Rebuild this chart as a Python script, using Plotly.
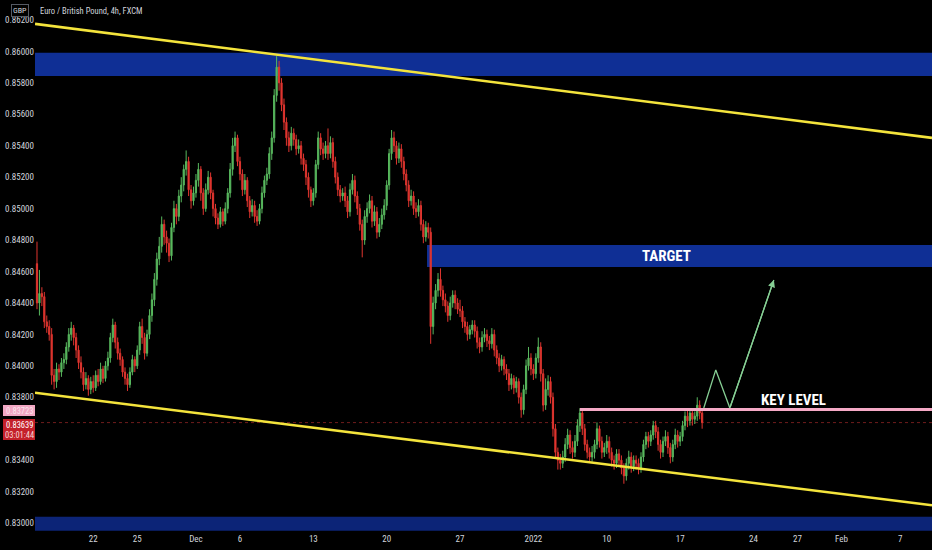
import pandas as pd
import plotly.graph_objects as go

# ---------------- data (prices in pips, 1 pip = 0.0001) ----------------
first_bar = "2021-11-16 04:00"
last_bar = "2022-01-18 12:00"
first_open = 8465

closes = [
    8440, 8446, 8444, 8428, 8425,
    8420, 8394, 8390, 8398, 8396, 8402,
    8404, 8412, 8420, 8424, 8418, 8410,
    8402, 8396, 8388, 8392, 8385, 8390,
    8386, 8394, 8390, 8398, 8392, 8400,
    8405, 8418, 8426, 8415, 8408, 8404,
    8396, 8392, 8388, 8396, 8404, 8400,
    8410, 8425, 8418, 8408, 8420, 8432,
    8442, 8455, 8468, 8476, 8490, 8482,
    8478, 8470, 8488, 8500, 8495, 8508,
    8515, 8525, 8530, 8512, 8505, 8510,
    8518, 8525, 8510, 8500, 8512, 8520,
    8510, 8500, 8494, 8490, 8498, 8492,
    8500, 8510, 8525, 8540, 8545, 8530,
    8522, 8512, 8518, 8505, 8498, 8502,
    8495, 8492, 8500, 8510, 8518, 8522,
    8535, 8545, 8572, 8590, 8580, 8566,
    8555, 8545, 8540, 8548, 8544, 8538,
    8540, 8532, 8528, 8520, 8512, 8505,
    8510, 8528, 8545, 8538, 8535, 8540,
    8535, 8542, 8530, 8520, 8512, 8508,
    8510, 8505, 8498, 8512, 8518, 8508,
    8500, 8490, 8480, 8495, 8500, 8505,
    8492, 8498, 8485, 8490, 8496, 8502,
    8515, 8535, 8545, 8540, 8532, 8538,
    8530, 8522, 8515, 8505, 8508, 8500,
    8498, 8502, 8490, 8482, 8488, 8485,
    8425, 8440, 8448, 8455, 8448, 8442,
    8438, 8432, 8440, 8445, 8440, 8436,
    8435, 8428, 8425, 8420, 8423, 8426,
    8422, 8415, 8412, 8418, 8420, 8416,
    8414, 8420, 8410, 8405, 8400, 8404,
    8398, 8395, 8388, 8392, 8386, 8390,
    8380, 8372, 8385, 8400, 8405, 8398,
    8395, 8405, 8412, 8395, 8375, 8385,
    8390, 8380, 8360, 8345, 8340, 8338,
    8342, 8350, 8356, 8348, 8345, 8352,
    8362, 8370, 8360, 8350, 8345, 8342,
    8345, 8350, 8360, 8352, 8345, 8348,
    8352, 8345, 8340, 8338, 8344, 8340,
    8335, 8330, 8338, 8342, 8336, 8340,
    8338, 8335, 8342, 8350, 8355, 8352,
    8356, 8362, 8358, 8350, 8345, 8352,
    8355, 8348, 8342, 8350, 8356, 8352,
    8355, 8362, 8368, 8365, 8370, 8366,
    8368, 8375, 8370, 8363.9,
]

highs = [
    8479, 8461, 8450, 8447, 8432,
    8429, 8424, 8398, 8402, 8401, 8405,
    8408, 8415, 8424, 8428, 8426, 8421,
    8413, 8406, 8399, 8396, 8394, 8393,
    8394, 8397, 8398, 8402, 8400, 8403,
    8409, 8421, 8430, 8428, 8418, 8411,
    8406, 8399, 8395, 8399, 8407, 8406,
    8413, 8428, 8430, 8421, 8423, 8436,
    8446, 8459, 8472, 8482, 8495, 8493,
    8486, 8481, 8491, 8505, 8503, 8512,
    8520, 8528, 8537, 8533, 8515, 8514,
    8522, 8529, 8527, 8513, 8516, 8524,
    8523, 8512, 8503, 8497, 8501, 8500,
    8504, 8513, 8529, 8545, 8549, 8547,
    8533, 8525, 8522, 8520, 8508, 8506,
    8505, 8499, 8503, 8514, 8521, 8526,
    8539, 8549, 8576, 8597, 8594, 8583,
    8570, 8558, 8549, 8552, 8551, 8547,
    8544, 8543, 8535, 8531, 8523, 8514,
    8513, 8531, 8549, 8548, 8542, 8543,
    8551, 8546, 8545, 8533, 8523, 8515,
    8513, 8514, 8508, 8516, 8522, 8521,
    8511, 8503, 8493, 8499, 8504, 8509,
    8508, 8502, 8501, 8494, 8500, 8506,
    8518, 8538, 8550, 8549, 8543, 8542,
    8541, 8533, 8525, 8518, 8512, 8511,
    8504, 8506, 8505, 8493, 8492, 8491,
    8488, 8444, 8452, 8459, 8462, 8451,
    8446, 8441, 8444, 8448, 8448, 8443,
    8442, 8438, 8431, 8428, 8426, 8429,
    8429, 8425, 8418, 8422, 8424, 8423,
    8419, 8424, 8423, 8413, 8408, 8407,
    8406, 8401, 8398, 8395, 8394, 8393,
    8392, 8383, 8388, 8404, 8412, 8408,
    8401, 8408, 8418, 8415, 8398, 8392,
    8394, 8393, 8383, 8363, 8348, 8344,
    8346, 8354, 8360, 8359, 8352, 8356,
    8366, 8373, 8372, 8363, 8353, 8348,
    8349, 8353, 8364, 8362, 8355, 8351,
    8356, 8355, 8348, 8343, 8347, 8347,
    8343, 8338, 8341, 8346, 8345, 8343,
    8343, 8341, 8345, 8353, 8358, 8358,
    8359, 8365, 8365, 8361, 8353, 8355,
    8359, 8358, 8351, 8353, 8360, 8359,
    8358, 8365, 8371, 8372, 8373, 8373,
    8371, 8380, 8378, 8372,
]

lows = [
    8436, 8432, 8438, 8424, 8421,
    8416, 8388, 8385, 8386, 8391, 8393,
    8398, 8401, 8409, 8416, 8413, 8405,
    8398, 8392, 8384, 8385, 8381, 8382,
    8383, 8384, 8387, 8388, 8389, 8390,
    8397, 8402, 8415, 8411, 8404, 8400,
    8393, 8388, 8384, 8386, 8394, 8396,
    8398, 8407, 8414, 8404, 8406, 8417,
    8428, 8438, 8451, 8464, 8472, 8477,
    8472, 8466, 8467, 8485, 8490, 8492,
    8504, 8511, 8521, 8508, 8500, 8502,
    8507, 8514, 8505, 8496, 8498, 8509,
    8506, 8495, 8490, 8487, 8488, 8489,
    8490, 8497, 8507, 8521, 8536, 8527,
    8518, 8508, 8509, 8501, 8494, 8495,
    8491, 8489, 8490, 8497, 8507, 8515,
    8519, 8531, 8542, 8568, 8575, 8562,
    8550, 8540, 8536, 8537, 8540, 8534,
    8535, 8528, 8524, 8515, 8507, 8501,
    8502, 8507, 8525, 8534, 8531, 8532,
    8531, 8532, 8526, 8516, 8508, 8504,
    8505, 8501, 8494, 8495, 8509, 8504,
    8496, 8486, 8469, 8477, 8491, 8497,
    8488, 8489, 8481, 8482, 8487, 8493,
    8499, 8512, 8531, 8536, 8528, 8529,
    8526, 8518, 8511, 8501, 8502, 8496,
    8494, 8495, 8486, 8478, 8479, 8481,
    8414, 8420, 8436, 8444, 8444, 8438,
    8434, 8428, 8429, 8437, 8436, 8433,
    8431, 8424, 8421, 8416, 8417, 8420,
    8418, 8411, 8408, 8409, 8415, 8412,
    8410, 8411, 8406, 8401, 8396, 8397,
    8394, 8391, 8384, 8385, 8382, 8383,
    8376, 8367, 8369, 8382, 8397, 8394,
    8391, 8392, 8402, 8390, 8371, 8372,
    8381, 8376, 8355, 8341, 8334, 8334,
    8335, 8339, 8347, 8344, 8341, 8342,
    8349, 8358, 8356, 8346, 8341, 8339,
    8339, 8341, 8347, 8348, 8341, 8342,
    8344, 8341, 8336, 8334, 8335, 8336,
    8331, 8325, 8327, 8334, 8332, 8333,
    8334, 8331, 8332, 8339, 8347, 8348,
    8349, 8353, 8354, 8346, 8341, 8342,
    8349, 8344, 8338, 8339, 8347, 8348,
    8349, 8352, 8359, 8361, 8362, 8362,
    8363, 8365, 8366, 8360,
]

x_tick_dates = ["2021-11-22", "2021-11-25", "2021-12-01", "2021-12-06", "2021-12-13",
                "2021-12-20", "2021-12-27", "2022-01-03", "2022-01-10", "2022-01-17",
                "2022-01-24", "2022-01-27", "2022-02-01", "2022-02-07"]
x_tick_labels = ["22", "25", "Dec", "6", "13", "20", "27", "2022", "10", "17",
                 "24", "27", "Feb", "7"]
y_tick_values = [0.830, 0.832, 0.834, 0.838, 0.840, 0.842, 0.844, 0.846, 0.848,
                 0.850, 0.852, 0.854, 0.856, 0.858, 0.860, 0.862]

x_range = ["2021-11-16 00:45", "2022-02-09 04:00"]
y_range = [0.82943, 0.86327]

# drawings (price levels)
upper_trend_x = ["2021-11-16 00:45", "2022-02-09 04:00"]
upper_trend_y = [0.86175, 0.85450]
lower_trend_x = ["2021-11-16 00:45", "2022-02-09 04:00"]
lower_trend_y = [0.83829, 0.83113]
top_zone = [0.85844, 0.85992]
target_zone = [0.84629, 0.84769]
target_zone_start = "2021-12-22 18:00"
bottom_zone = [0.82951, 0.83040]
key_level = 0.83723
key_level_start = "2022-01-06 04:00"
last_price = 0.83639
countdown = "03:01:44"
path_x = ["2022-01-18 14:40", "2022-01-19 10:20", "2022-01-20 09:20"]
path_y = [0.83732, 0.83974, 0.83732]
arrow_tip = ("2022-01-25 09:20", 0.84546)
target_label_pos = ("2022-01-14 02:00", 0.84699)
key_label_pos = ("2022-01-26 18:00", 0.83783)

# ---------------- build ----------------
times = pd.date_range(first_bar, last_bar, freq="4h")
times = times[times.dayofweek < 5]
assert len(times) == len(closes) == len(highs) == len(lows), (len(times), len(closes), len(highs), len(lows))

opens = [first_open] + closes[:-1]
sc = 10000.0
O = [v / sc for v in opens]
H = [v / sc for v in highs]
L = [v / sc for v in lows]
C = [v / sc for v in closes]

W, HGT = 932, 550
ML, MB = 35, 18
PW, PH = W - ML, HGT - MB


def xp(px):
    return (px - ML) / PW


def yp(py):
    return 1 - py / PH


FONT = "Liberation Sans Narrow, Arial Narrow, Roboto Condensed, Roboto, sans-serif"
TXT = "#d1d4dc"
BLUE = "#0f2f95"
BLUE_DARK = "#0c2477"
YELLOW = "#f4e43c"
PINK = "#f5a9c6"
GREEN_ARROW = "#86cf94"

fig = go.Figure()

shapes = [
    dict(type="rect", xref="paper", yref="y", x0=0, x1=1, y0=top_zone[0], y1=top_zone[1],
         fillcolor=BLUE, line=dict(width=0), layer="below"),
    dict(type="rect", xref="x", yref="y", x0=target_zone_start, x1=x_range[1],
         y0=target_zone[0], y1=target_zone[1], fillcolor=BLUE, line=dict(width=0), layer="below"),
    dict(type="rect", xref="paper", yref="y", x0=0, x1=1, y0=bottom_zone[0], y1=bottom_zone[1],
         fillcolor=BLUE_DARK, line=dict(width=0), layer="below"),
    dict(type="line", xref="paper", yref="y", x0=0, x1=1, y0=last_price, y1=last_price,
         line=dict(color="#6e1c1c", width=1, dash="dot"), layer="below"),
    dict(type="line", xref="x", yref="y", x0=key_level_start, x1=x_range[1],
         y0=key_level, y1=key_level, line=dict(color=PINK, width=3), layer="above"),
    # price scale labels
    dict(type="rect", xref="paper", yref="paper", x0=xp(3), x1=xp(35), y0=yp(416), y1=yp(405),
         fillcolor="#f2a7c3", line=dict(width=0), layer="above"),
    dict(type="rect", xref="paper", yref="paper", x0=xp(3), x1=xp(35), y0=yp(440), y1=yp(419),
         fillcolor="#c4202a", line=dict(width=0), layer="above"),
]

fig.add_trace(go.Candlestick(
    x=times, open=O, high=H, low=L, close=C,
    increasing=dict(line=dict(color="#58b85e", width=1), fillcolor="#58b85e"),
    decreasing=dict(line=dict(color="#e0352f", width=1), fillcolor="#e0352f"),
    whiskerwidth=0, hoverinfo="skip", showlegend=False,
))

fig.add_trace(go.Scatter(x=upper_trend_x, y=upper_trend_y, mode="lines",
                         line=dict(color=YELLOW, width=2.6), hoverinfo="skip", showlegend=False))
fig.add_trace(go.Scatter(x=lower_trend_x, y=lower_trend_y, mode="lines",
                         line=dict(color=YELLOW, width=2.6), hoverinfo="skip", showlegend=False))
fig.add_trace(go.Scatter(x=path_x + [arrow_tip[0]], y=path_y + [arrow_tip[1]], mode="lines",
                         line=dict(color=GREEN_ARROW, width=1.3), hoverinfo="skip", showlegend=False))

annotations = [
    dict(x=arrow_tip[0], y=arrow_tip[1], xref="x", yref="y", ax=path_x[-1], ay=path_y[-1],
         axref="x", ayref="y", text="", showarrow=True, arrowhead=2, arrowsize=1.1,
         arrowwidth=1.3, arrowcolor=GREEN_ARROW),
    dict(x=target_label_pos[0], y=target_label_pos[1], xref="x", yref="y", text="<b>TARGET</b>",
         showarrow=False, xanchor="center", yanchor="middle",
         font=dict(family=FONT, size=15, color="#ffffff")),
    dict(x=key_label_pos[0], y=key_label_pos[1], xref="x", yref="y", text="<b>KEY LEVEL</b>",
         showarrow=False, xanchor="center", yanchor="middle",
         font=dict(family=FONT, size=15, color="#ffffff")),
    dict(x=xp(38), y=yp(10.5), xref="paper", yref="paper", xanchor="left", yanchor="middle",
         text="Euro / British Pound, 4h, FXCM", showarrow=False,
         font=dict(family=FONT, size=8.5, color=TXT)),
    dict(x=xp(19.5), y=yp(10.5), xref="paper", yref="paper", xanchor="center", yanchor="middle",
         text="GBP", showarrow=False, bordercolor="#555a64", borderwidth=1, borderpad=1,
         font=dict(family=FONT, size=8, color=TXT)),
    dict(x=xp(19), y=yp(410.5), xref="paper", yref="paper", text=f"{key_level:.5f}",
         showarrow=False, xanchor="center", yanchor="middle", borderpad=0,
         font=dict(family=FONT, size=8.5, color="#fbe3ec")),
    dict(x=xp(19), y=yp(424.5), xref="paper", yref="paper", text=f"{last_price:.5f}",
         showarrow=False, xanchor="center", yanchor="middle", borderpad=0,
         font=dict(family=FONT, size=8.5, color="#ffffff")),
    dict(x=xp(19), y=yp(434.5), xref="paper", yref="paper", text=countdown,
         showarrow=False, xanchor="center", yanchor="middle", borderpad=0,
         font=dict(family=FONT, size=8.5, color="#f6d5d5")),
]

fig.update_layout(
    width=W, height=HGT,
    margin=dict(l=ML, r=0, t=0, b=MB, pad=0),
    paper_bgcolor="#000000", plot_bgcolor="#000000",
    shapes=shapes, annotations=annotations, showlegend=False,
    font=dict(family=FONT, color=TXT),
    xaxis=dict(
        range=x_range, rangeslider=dict(visible=False),
        rangebreaks=[dict(bounds=["sat", "mon"])],
        tickmode="array", tickvals=x_tick_dates, ticktext=x_tick_labels,
        showgrid=False, zeroline=False, showline=False, ticks="",
        tickfont=dict(family=FONT, size=9, color=TXT), fixedrange=True,
        automargin=False,
    ),
    yaxis=dict(
        range=y_range, tickmode="array", tickvals=y_tick_values,
        ticktext=[f"{v:.5f}" for v in y_tick_values],
        showgrid=False, zeroline=False, showline=False, ticks="",
        tickfont=dict(family=FONT, size=9, color=TXT), fixedrange=True,
        automargin=False,
    ),
)

fig.write_html(
    "out.html",
    config={"displayModeBar": False},
    post_script="document.body.style.margin='0px';document.body.style.background='#000';",
)
